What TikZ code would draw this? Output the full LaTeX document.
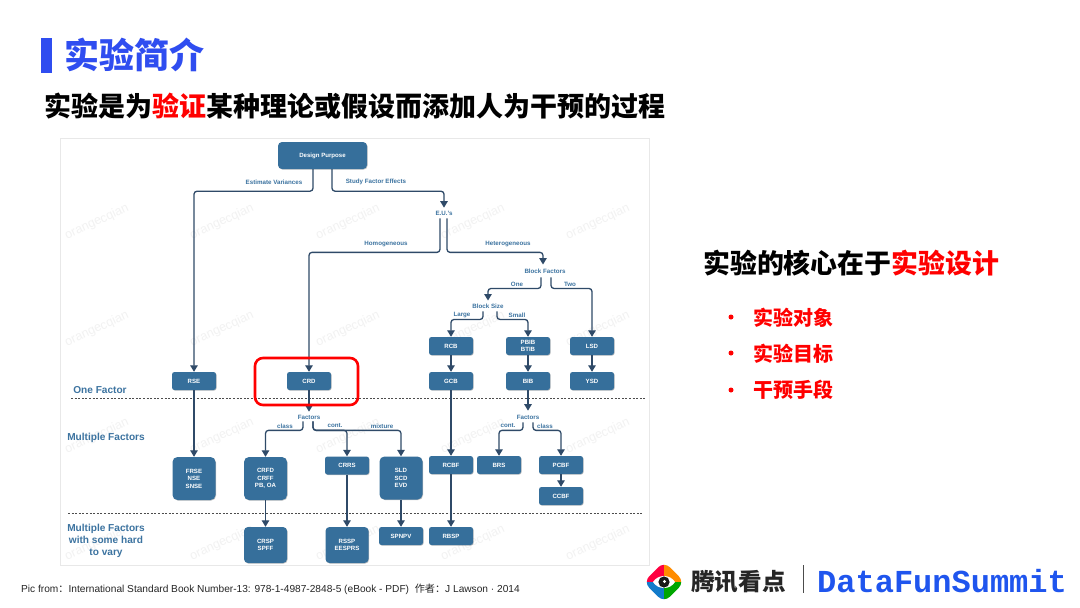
\documentclass[tikz,border=0pt]{standalone}
\usepackage{fontspec}
\setmainfont{Liberation Sans}
\newfontfamily\cjk{Noto Sans CJK SC}
\newfontfamily\brand{Liberation Mono}
\usetikzlibrary{arrows.meta,calc,shadows,positioning}
\definecolor{nodeblue}{HTML}{366F9B}
\definecolor{linkblue}{HTML}{2F4A68}
\definecolor{labblue}{HTML}{3C73A0}
\definecolor{titleblue}{HTML}{2F4DF0}
\definecolor{brandblue}{HTML}{1F55EE}
\tikzset{
  x=1pt,y=-1pt,
  box/.style={draw=none,fill=nodeblue,rounded corners=2.5pt,minimum width=44pt,minimum height=18pt,inner sep=0pt,
    font=\fontsize{6.1}{7.4}\selectfont\bfseries,text=white,align=center,
    drop shadow={shadow xshift=0.6pt,shadow yshift=-0.6pt,opacity=.25,fill=black}},
  tallbox/.style={box,rounded corners=5pt,minimum width=43pt,minimum height=43pt},
  midbox/.style={box,rounded corners=4pt,minimum width=43pt,minimum height=36pt},
  lab/.style={inner sep=0pt,font=\fontsize{6.2}{7}\selectfont\bfseries,text=labblue},
  rowlab/.style={inner sep=0pt,font=\fontsize{10.1}{12}\selectfont\bfseries,text=labblue,align=center},
  conn/.style={draw=linkblue,line width=1.3pt,rounded corners=3pt,-{Triangle[length=6.5pt,width=7.5pt]}},
  divider/.style={draw=black!70,line width=.9pt,dash pattern=on 2pt off 1.6pt},
  wmark/.style={text=black!5,inner sep=0pt,rotate=25,font=\fontsize{12.5}{15}\selectfont},
  heading/.style={inner sep=0pt,anchor=west,font=\cjk\bfseries},
  item/.style={heading,text=red,font=\cjk\bfseries\fontsize{20}{24}\selectfont},
  bulletdot/.style={circle,fill=red,inner sep=0pt,minimum size=5pt},
}
\begin{document}
\begin{tikzpicture}
\useasboundingbox[fill=white] (0,0) rectangle (1080,608);
% panel
\draw[black!9,line width=.7pt] (60,138) rectangle (649,565);
% watermarks
\foreach \i/\px in {1/97,2/222,3/348,4/473,5/598}
  \foreach \j/\py in {1/222,2/329,3/436,4/543}
    \node[wmark] (wm\i\j) at (\px,\py) {orangecqian};
% title
\fill[titleblue] (41,38) rectangle (52,73);
\node[heading,text=titleblue,font=\cjk\bfseries\fontsize{35}{40}\selectfont] (title) at (64,55) {实验简介};
\node[heading,font=\cjk\bfseries\fontsize{27}{32}\selectfont] (sub) at (44,106) {实验是为\textcolor{red}{验证}某种理论或假设而添加人为干预的过程};
% boxes
\node[box,minimum width=89pt,minimum height=27pt,rounded corners=4pt] (dp) at (322.5,155.5) {Design Purpose};
\node[box] (rse) at (194,381) {RSE};
\node[box] (crd) at (309,381) {CRD};
\node[box] (rcb) at (451,346) {RCB};
\node[box] (pbib) at (528,346) {PBIB\\BTIB};
\node[box] (lsd) at (592,346) {LSD};
\node[box] (gcb) at (451,381) {GCB};
\node[box] (bib) at (528,381) {BIB};
\node[box] (ysd) at (592,381) {YSD};
\node[tallbox] (frse) at (194,478.5) {FRSE\\NSE\\SNSE};
\node[tallbox] (crfd) at (265.5,478.5) {CRFD\\CRFF\\PB, OA};
\node[box] (crrs) at (347,465.5) {CRRS};
\node[tallbox] (sld) at (401,478) {SLD\\SCD\\EVD};
\node[box] (rcbf) at (451,465) {RCBF};
\node[box] (brs) at (499,465) {BRS};
\node[box] (pcbf) at (561,465) {PCBF};
\node[box] (ccbf) at (561,496) {CCBF};
\node[midbox] (crsp) at (265.5,545) {CRSP\\SPFF};
\node[midbox] (rssp) at (347,545) {RSSP\\EESPRS};
\node[box] (spnpv) at (401,536) {SPNPV};
\node[box] (rbsp) at (451,536) {RBSP};
% labels with connectors
\node[lab] (eu) at (444,213) {E.U.'s};
\node[lab] (bf) at (545,271) {Block Factors};
\node[lab] (bs) at (488,306) {Block Size};
\node[lab] (fa) at (309,417) {Factors};
\node[lab] (fb) at (528,417) {Factors};
\node[lab] (lev) at (274,182) {Estimate Variances};
\node[lab] (lsf) at (376,182) {Study Factor Effects};
\node[lab] (lho) at (386,244) {Homogeneous};
\node[lab] (lhe) at (508,244) {Heterogeneous};
\node[lab] (lone) at (517,284) {One};
\node[lab] (ltwo) at (570,284) {Two};
\node[lab] (llg) at (462,315) {Large};
\node[lab] (lsm) at (517,315) {Small};
\node[lab] (lc1) at (285,426) {class};
\node[lab] (lc2) at (335,426) {cont.};
\node[lab] (lmx) at (382,426) {mixture};
\node[lab] (lc3) at (508,426) {cont.};
\node[lab] (lc4) at (545,426) {class};
% row labels
\node[rowlab] (r1) at (100,390) {One Factor};
\node[rowlab] (r2) at (106,438) {Multiple Factors};
\node[rowlab] (r3) at (106,541) {Multiple Factors\\with some hard\\to vary};
% dividers
\coordinate (d1a) at (71,398); \coordinate (d1b) at (645,398);
\coordinate (d2a) at (68,513); \coordinate (d2b) at (643,513);
\draw[divider] (d1a) -- (d1b);
\draw[divider] (d2a) -- (d2b);
% connectors
\draw[conn] ([xshift=-9.5pt]dp.south) -- ++(0,22) -| (rse.north);
\draw[conn] ([xshift=9.5pt]dp.south) -- ++(0,22) -| ([yshift=3pt]eu.north);
\draw[conn] ([xshift=-4pt,yshift=-3pt]eu.south) -- ++(0,34) -| (crd.north);
\draw[conn] ([xshift=3pt,yshift=-3pt]eu.south) -- ++(0,34) -| ([xshift=-2pt,yshift=4pt]bf.north);
\draw[conn] ([xshift=-4pt,yshift=-4pt]bf.south) -- ++(0,11) -| ([yshift=3pt]bs.north);
\draw[conn] ([xshift=6pt,yshift=-4pt]bf.south) -- ++(0,11) -| (lsd.north);
\draw[conn] ([xshift=-5pt,yshift=-3pt]bs.south) -- ++(0,8) -| (rcb.north);
\draw[conn] ([xshift=9pt,yshift=-3pt]bs.south) -- ++(0,8) -| (pbib.north);
\draw[conn] (rcb) -- (gcb);
\draw[conn] (pbib) -- (bib);
\draw[conn] (lsd) -- (ysd);
\draw[conn] (rse) -- (frse);
\draw[conn] (crd) -- ([yshift=3pt]fa.north);
\draw[conn] ([xshift=-6pt,yshift=-2pt]fa.south) -- ++(0,9) -| (crfd.north);
\draw[conn] ([xshift=4pt,yshift=-2pt]fa.south) -- ++(0,9) -| (crrs.north);
\draw[conn] ([xshift=4pt,yshift=-2pt]fa.south) -- ++(0,9) -| (sld.north);
\draw[conn] (crfd) -- (crsp);
\draw[conn] (crrs) -- (rssp);
\draw[conn] (sld) -- (spnpv);
\draw[conn] (gcb) -- (rcbf);
\draw[conn] (rcbf) -- (rbsp);
\draw[conn] (bib) -- ([yshift=4pt]fb.north);
\draw[conn] ([xshift=-5pt,yshift=-3pt]fb.south) -- ++(0,8) -| (brs.north);
\draw[conn] ([xshift=5pt,yshift=-3pt]fb.south) -- ++(0,8) -| (pcbf.north);
\draw[conn] (pcbf) -- (ccbf);
% highlight
\draw[red,line width=2.6pt,rounded corners=8pt] (255,358) rectangle (358,405);
% right side
\node[heading,font=\cjk\bfseries\fontsize{26.9}{32}\selectfont] (core) at (703,263) {实验的核心在于\textcolor{red}{实验设计}};
\node[bulletdot] (b1) at (731,317) {};
\node[bulletdot] (b2) at (731,353) {};
\node[bulletdot] (b3) at (731,390) {};
\node[item] (i1) at (753,318) {实验对象};
\node[item] (i2) at (753,354) {实验目标};
\node[item] (i3) at (753,390) {干预手段};
% footer
\node[inner sep=0pt,anchor=west,text=black!85,font=\fontsize{10.15}{12}\selectfont] (src) at (21,589.5) {Pic from{\cjk ：}International Standard Book Number-13: 978-1-4987-2848-5 (eBook - PDF)\ \ {\cjk 作者：}J Lawson · 2014};
% logo
\begin{scope}
  \clip[rounded corners=8pt,rotate around={45:(664,582)}] (649.5,567.5) rectangle (678.5,596.5);
  \fill[red!75!magenta] (640,560) rectangle (664,582);
  \fill[orange!90!yellow] (664,560) rectangle (690,582);
  \fill[green!65!black] (664,582) rectangle (690,604);
  \fill[cyan!60!blue] (640,582) rectangle (664,604);
\end{scope}
\fill[white] (653,582) .. controls (658,574) and (670,574) .. (675,582) .. controls (670,590) and (658,590) .. (653,582) -- cycle;
\fill[black!90] (664,582) circle (5.6);
\fill[white] (664.5,581.5) circle (1.6);
\node[inner sep=0pt,anchor=west,text=black!85,font=\cjk\bfseries\fontsize{23.6}{28}\selectfont] (tx) at (691,582) {腾讯看点};
\draw[black!70,line width=.9pt] (803,565) -- (803,593);
\node[inner sep=0pt,anchor=west,text=brandblue,font=\brand\bfseries\fontsize{32}{36}\selectfont] (df) at (817,581) {DataFunSummit};
\end{tikzpicture}
\end{document}
